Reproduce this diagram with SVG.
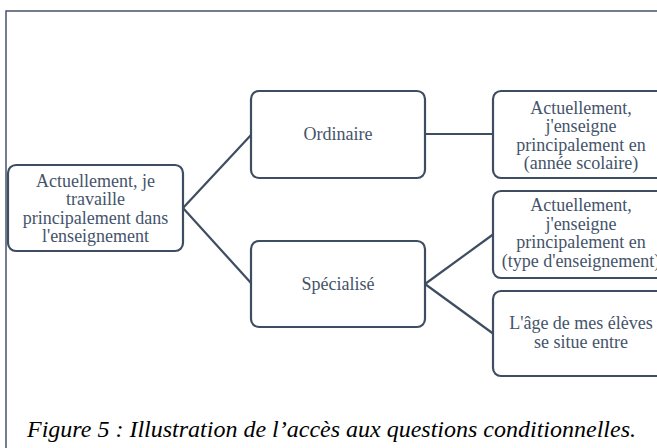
<svg xmlns="http://www.w3.org/2000/svg" width="657" height="448" viewBox="0 0 657 448">
<style>
.frame{fill:none;stroke:#44546A;stroke-width:1.5}
.box{fill:#fff;stroke:#3E4D61;stroke-width:2.2}
.lnk{fill:none;stroke:#3E4D61;stroke-width:2.2}
.t{font-family:"Liberation Serif","Times New Roman",serif;font-size:18px;fill:#44546A;text-anchor:middle}
.cap{font-family:"Liberation Serif","Times New Roman",serif;font-size:24px;font-style:italic;fill:#000}
</style>
<rect width="657" height="448" fill="#fff"/>
<rect class="frame" x="6" y="11" width="700" height="500"/>
<g id="connectors">
<path class="lnk" d="M183 208 L251 135"/>
<path class="lnk" d="M183 208 L251 283"/>
<path class="lnk" d="M425 134 L493 134"/>
<path class="lnk" d="M425 284 L493 234.5"/>
<path class="lnk" d="M425 284 L493 333.5"/>
</g>
<g id="root">
<rect class="box" x="8" y="165" width="175" height="86" rx="8"/>
<text class="t" x="95.5" y="186.5">Actuellement, je</text>
<text class="t" x="95.5" y="205">travaille</text>
<text class="t" x="95.5" y="223.5">principalement dans</text>
<text class="t" x="95.5" y="242">l'enseignement</text>
</g>
<g id="ordinaire">
<rect class="box" x="251" y="91" width="174" height="87" rx="8"/>
<text class="t" x="338" y="140">Ordinaire</text>
</g>
<g id="specialise">
<rect class="box" x="251" y="241" width="174" height="86" rx="8"/>
<text class="t" x="338" y="290">Spécialisé</text>
</g>
<g id="annee">
<rect class="box" x="493" y="91" width="176" height="87" rx="8"/>
<text class="t" x="581" y="113.5">Actuellement,</text>
<text class="t" x="581" y="132">j'enseigne</text>
<text class="t" x="581" y="150.5">principalement en</text>
<text class="t" x="581" y="169">(année scolaire)</text>
</g>
<g id="type">
<rect class="box" x="493" y="191" width="176" height="87" rx="8"/>
<text class="t" x="581" y="211">Actuellement,</text>
<text class="t" x="581" y="229.5">j'enseigne</text>
<text class="t" x="581" y="248">principalement en</text>
<text class="t" x="581" y="266.5">(type d'enseignement)</text>
</g>
<g id="age">
<rect class="box" x="493" y="291" width="176" height="85" rx="8"/>
<text class="t" x="581" y="329">L'âge de mes élèves</text>
<text class="t" x="581" y="347.5">se situe entre</text>
</g>
<text class="cap" x="27" y="437">Figure 5 : Illustration de l’accès aux questions conditionnelles.</text>
</svg>
